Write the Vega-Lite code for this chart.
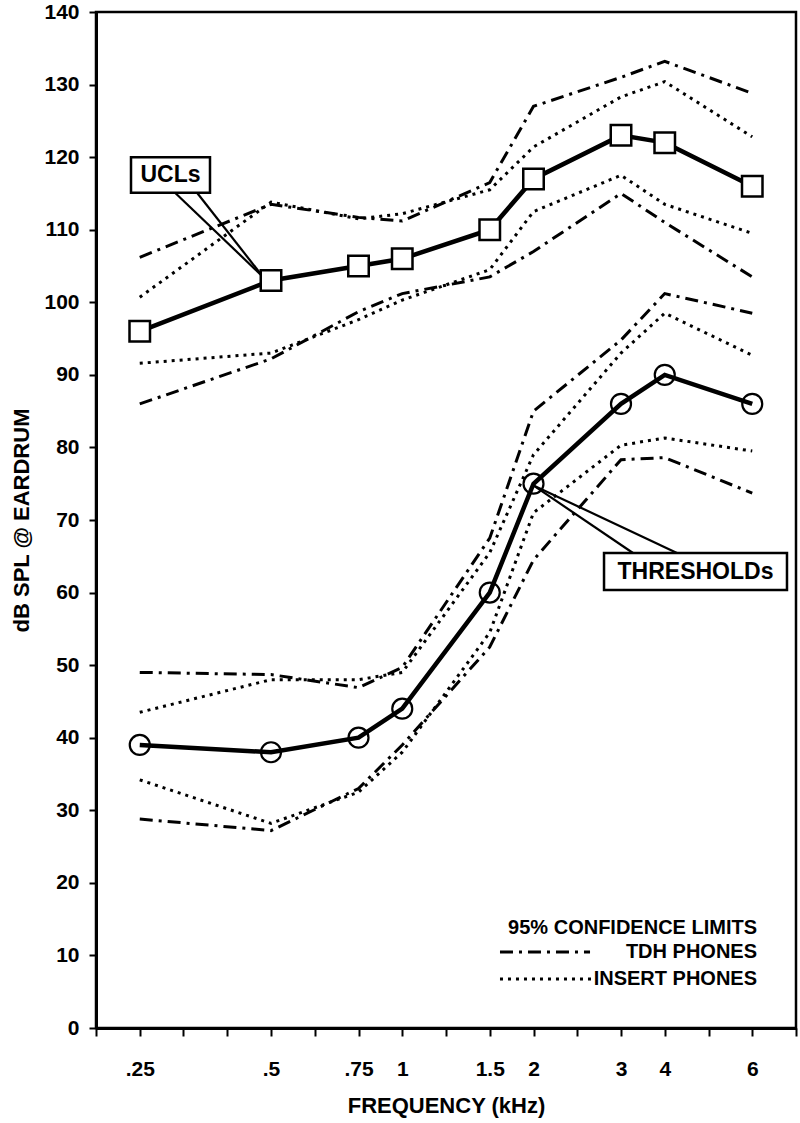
{
  "$schema": "https://vega.github.io/schema/vega-lite/v6.json",
  "width": 700,
  "height": 1016,
  "autosize": "none",
  "padding": {"left": 96, "top": 12, "right": 4, "bottom": 95},
  "background": "white",
  "config": {
    "view": {"stroke": "black", "strokeWidth": 2.5},
    "font": "Liberation Sans",
    "axis": {
      "domainColor": "black", "domainWidth": 3, "tickColor": "black", "tickWidth": 2,
      "labelColor": "black", "titleColor": "black", "grid": false,
      "labelFont": "Liberation Sans", "titleFont": "Liberation Sans",
      "labelFontWeight": "bold", "titleFontWeight": "bold"
    }
  },
  "datasets": {
    "conf": [
      {"f": 0.25, "v": 106.2, "m": "UCL", "p": "TDH", "b": "upper"},
      {"f": 0.5, "v": 113.5, "m": "UCL", "p": "TDH", "b": "upper"},
      {"f": 0.75, "v": 111.7, "m": "UCL", "p": "TDH", "b": "upper"},
      {"f": 1, "v": 111.2, "m": "UCL", "p": "TDH", "b": "upper"},
      {"f": 1.5, "v": 116.5, "m": "UCL", "p": "TDH", "b": "upper"},
      {"f": 2, "v": 127, "m": "UCL", "p": "TDH", "b": "upper"},
      {"f": 3, "v": 131, "m": "UCL", "p": "TDH", "b": "upper"},
      {"f": 4, "v": 133.2, "m": "UCL", "p": "TDH", "b": "upper"},
      {"f": 6, "v": 128.8, "m": "UCL", "p": "TDH", "b": "upper"},
      {"f": 0.25, "v": 100.7, "m": "UCL", "p": "INSERT", "b": "upper"},
      {"f": 0.5, "v": 113.8, "m": "UCL", "p": "INSERT", "b": "upper"},
      {"f": 0.75, "v": 111.5, "m": "UCL", "p": "INSERT", "b": "upper"},
      {"f": 1, "v": 112.2, "m": "UCL", "p": "INSERT", "b": "upper"},
      {"f": 1.5, "v": 115.5, "m": "UCL", "p": "INSERT", "b": "upper"},
      {"f": 2, "v": 121.4, "m": "UCL", "p": "INSERT", "b": "upper"},
      {"f": 3, "v": 128.3, "m": "UCL", "p": "INSERT", "b": "upper"},
      {"f": 4, "v": 130.4, "m": "UCL", "p": "INSERT", "b": "upper"},
      {"f": 6, "v": 122.8, "m": "UCL", "p": "INSERT", "b": "upper"},
      {"f": 0.25, "v": 91.6, "m": "UCL", "p": "INSERT", "b": "lower"},
      {"f": 0.5, "v": 93, "m": "UCL", "p": "INSERT", "b": "lower"},
      {"f": 0.75, "v": 97.6, "m": "UCL", "p": "INSERT", "b": "lower"},
      {"f": 1, "v": 100.3, "m": "UCL", "p": "INSERT", "b": "lower"},
      {"f": 1.5, "v": 104.5, "m": "UCL", "p": "INSERT", "b": "lower"},
      {"f": 2, "v": 112.5, "m": "UCL", "p": "INSERT", "b": "lower"},
      {"f": 3, "v": 117.5, "m": "UCL", "p": "INSERT", "b": "lower"},
      {"f": 4, "v": 113.5, "m": "UCL", "p": "INSERT", "b": "lower"},
      {"f": 6, "v": 109.5, "m": "UCL", "p": "INSERT", "b": "lower"},
      {"f": 0.25, "v": 86, "m": "UCL", "p": "TDH", "b": "lower"},
      {"f": 0.5, "v": 92.2, "m": "UCL", "p": "TDH", "b": "lower"},
      {"f": 0.75, "v": 98.7, "m": "UCL", "p": "TDH", "b": "lower"},
      {"f": 1, "v": 101.2, "m": "UCL", "p": "TDH", "b": "lower"},
      {"f": 1.5, "v": 103.5, "m": "UCL", "p": "TDH", "b": "lower"},
      {"f": 2, "v": 107, "m": "UCL", "p": "TDH", "b": "lower"},
      {"f": 3, "v": 115, "m": "UCL", "p": "TDH", "b": "lower"},
      {"f": 4, "v": 111, "m": "UCL", "p": "TDH", "b": "lower"},
      {"f": 6, "v": 103.5, "m": "UCL", "p": "TDH", "b": "lower"},
      {"f": 0.25, "v": 49, "m": "THR", "p": "TDH", "b": "upper"},
      {"f": 0.5, "v": 48.7, "m": "THR", "p": "TDH", "b": "upper"},
      {"f": 0.75, "v": 46.9, "m": "THR", "p": "TDH", "b": "upper"},
      {"f": 1, "v": 49.7, "m": "THR", "p": "TDH", "b": "upper"},
      {"f": 1.5, "v": 67.5, "m": "THR", "p": "TDH", "b": "upper"},
      {"f": 2, "v": 85, "m": "THR", "p": "TDH", "b": "upper"},
      {"f": 3, "v": 94.8, "m": "THR", "p": "TDH", "b": "upper"},
      {"f": 4, "v": 101.2, "m": "THR", "p": "TDH", "b": "upper"},
      {"f": 6, "v": 98.5, "m": "THR", "p": "TDH", "b": "upper"},
      {"f": 0.25, "v": 43.5, "m": "THR", "p": "INSERT", "b": "upper"},
      {"f": 0.5, "v": 48, "m": "THR", "p": "INSERT", "b": "upper"},
      {"f": 0.75, "v": 48, "m": "THR", "p": "INSERT", "b": "upper"},
      {"f": 1, "v": 49, "m": "THR", "p": "INSERT", "b": "upper"},
      {"f": 1.5, "v": 65.5, "m": "THR", "p": "INSERT", "b": "upper"},
      {"f": 2, "v": 79, "m": "THR", "p": "INSERT", "b": "upper"},
      {"f": 3, "v": 93, "m": "THR", "p": "INSERT", "b": "upper"},
      {"f": 4, "v": 98.5, "m": "THR", "p": "INSERT", "b": "upper"},
      {"f": 6, "v": 92.7, "m": "THR", "p": "INSERT", "b": "upper"},
      {"f": 0.25, "v": 34.2, "m": "THR", "p": "INSERT", "b": "lower"},
      {"f": 0.5, "v": 28.2, "m": "THR", "p": "INSERT", "b": "lower"},
      {"f": 0.75, "v": 32.5, "m": "THR", "p": "INSERT", "b": "lower"},
      {"f": 1, "v": 38, "m": "THR", "p": "INSERT", "b": "lower"},
      {"f": 1.5, "v": 54.5, "m": "THR", "p": "INSERT", "b": "lower"},
      {"f": 2, "v": 71, "m": "THR", "p": "INSERT", "b": "lower"},
      {"f": 3, "v": 80.3, "m": "THR", "p": "INSERT", "b": "lower"},
      {"f": 4, "v": 81.3, "m": "THR", "p": "INSERT", "b": "lower"},
      {"f": 6, "v": 79.5, "m": "THR", "p": "INSERT", "b": "lower"},
      {"f": 0.25, "v": 28.8, "m": "THR", "p": "TDH", "b": "lower"},
      {"f": 0.5, "v": 27.2, "m": "THR", "p": "TDH", "b": "lower"},
      {"f": 0.75, "v": 33, "m": "THR", "p": "TDH", "b": "lower"},
      {"f": 1, "v": 39, "m": "THR", "p": "TDH", "b": "lower"},
      {"f": 1.5, "v": 52.5, "m": "THR", "p": "TDH", "b": "lower"},
      {"f": 2, "v": 64.5, "m": "THR", "p": "TDH", "b": "lower"},
      {"f": 3, "v": 78.3, "m": "THR", "p": "TDH", "b": "lower"},
      {"f": 4, "v": 78.6, "m": "THR", "p": "TDH", "b": "lower"},
      {"f": 6, "v": 73.7, "m": "THR", "p": "TDH", "b": "lower"},
      {"f": 1.617, "v": 10.47, "m": "LEG", "p": "TDH", "b": "leg"},
      {"f": 2.646, "v": 10.47, "m": "LEG", "p": "TDH", "b": "leg"},
      {"f": 1.617, "v": 6.75, "m": "LEG", "p": "INSERT", "b": "leg"},
      {"f": 2.669, "v": 6.75, "m": "LEG", "p": "INSERT", "b": "leg"}
    ],
    "mean": [
      {"f": 0.25, "v": 96, "m": "UCL"},
      {"f": 0.5, "v": 103, "m": "UCL"},
      {"f": 0.75, "v": 105, "m": "UCL"},
      {"f": 1, "v": 106, "m": "UCL"},
      {"f": 1.5, "v": 110, "m": "UCL"},
      {"f": 2, "v": 117, "m": "UCL"},
      {"f": 3, "v": 123, "m": "UCL"},
      {"f": 4, "v": 122, "m": "UCL"},
      {"f": 6, "v": 116, "m": "UCL"},
      {"f": 0.25, "v": 39, "m": "THR"},
      {"f": 0.5, "v": 38, "m": "THR"},
      {"f": 0.75, "v": 40, "m": "THR"},
      {"f": 1, "v": 44, "m": "THR"},
      {"f": 1.5, "v": 60, "m": "THR"},
      {"f": 2, "v": 75, "m": "THR"},
      {"f": 3, "v": 86, "m": "THR"},
      {"f": 4, "v": 90, "m": "THR"},
      {"f": 6, "v": 86, "m": "THR"}
    ],
    "wedges": [
      {"f": 0.3172, "v": 115.1, "f2": 0.4848, "v2": 103.5},
      {"f": 0.3591, "v": 115.1, "f2": 0.4848, "v2": 103.5},
      {"f": 3.274, "v": 65.45, "f2": 1.994, "v2": 74.8},
      {"f": 4.28, "v": 65.45, "f2": 1.994, "v2": 74.8}
    ],
    "boxes": [
      {"f": 0.24, "f2": 0.3838, "v": 120.0, "v2": 115.1, "label": "UCLs", "fc": 0.3086, "vc": 117.5},
      {"f": 2.806, "f2": 6.794, "v": 65.45, "v2": 60.36, "label": "THRESHOLDs", "fc": 4.703, "vc": 62.9}
    ],
    "legend": [
      {"f": 6.109, "v": 13.78, "label": "95% CONFIDENCE LIMITS"},
      {"f": 6.109, "v": 10.47, "label": "TDH PHONES"},
      {"f": 6.109, "v": 6.75, "label": "INSERT PHONES"}
    ]
  },
  "encoding": {
    "x": {
      "field": "f", "type": "quantitative",
      "scale": {
        "domain": [0.2, 0.25, 0.5, 0.75, 1, 1.5, 2, 3, 4, 6, 7],
        "range": [0, 43.75, 175, 262.5, 306.25, 393.75, 437.5, 525, 568.75, 656.25, 700],
        "nice": false, "zero": false, "clamp": false
      },
      "axis": {
        "title": "FREQUENCY (kHz)",
        "values": [0.2, 0.25, 0.333333, 0.416667, 0.5, 0.625, 0.75, 1, 1.25, 1.5, 2, 2.5, 3, 4, 5, 6, 7],
        "labelExpr": "datum.value == 0.25 ? '.25' : datum.value == 0.5 ? '.5' : datum.value == 0.75 ? '.75' : datum.value == 1 ? '1' : datum.value == 1.5 ? '1.5' : datum.value == 2 ? '2' : datum.value == 3 ? '3' : datum.value == 4 ? '4' : datum.value == 6 ? '6' : ''",
        "labelFontSize": 21, "labelPadding": 22, "tickSize": 8,
        "titleFontSize": 22, "titlePadding": 16, "labelFlush": false, "labelOverlap": false
      }
    },
    "y": {
      "field": "v", "type": "quantitative",
      "scale": {"domain": [0, 140], "nice": false, "zero": true},
      "axis": {
        "title": "dB SPL @ EARDRUM",
        "values": [0, 10, 20, 30, 40, 50, 60, 70, 80, 90, 100, 110, 120, 130, 140],
        "labelFontSize": 21, "labelPadding": 10, "tickSize": 7,
        "titleFontSize": 22, "titlePadding": 10
      }
    }
  },
  "layer": [
    {
      "data": {"name": "conf"},
      "mark": {"type": "line", "color": "black", "strokeWidth": 3},
      "encoding": {
        "detail": [{"field": "m"}, {"field": "b"}],
        "strokeDash": {
          "field": "p", "type": "nominal",
          "scale": {"domain": ["TDH", "INSERT"], "range": [[13, 6, 3, 6], [3, 5]]},
          "legend": null
        }
      }
    },
    {
      "data": {"name": "wedges"},
      "mark": {"type": "rule", "color": "black", "strokeWidth": 2.2},
      "encoding": {
        "x2": {"field": "f2"},
        "y2": {"field": "v2"}
      }
    },
    {
      "data": {"name": "mean"},
      "mark": {"type": "line", "color": "black", "strokeWidth": 4.5},
      "encoding": {"detail": {"field": "m"}}
    },
    {
      "data": {"name": "mean"},
      "transform": [{"filter": "datum.m == 'UCL'"}],
      "mark": {"type": "point", "shape": "square", "size": 420, "filled": true, "fill": "white", "stroke": "black", "strokeWidth": 2.5, "opacity": 1}
    },
    {
      "data": {"name": "mean"},
      "transform": [{"filter": "datum.m == 'THR'"}],
      "mark": {"type": "point", "shape": "circle", "size": 400, "filled": false, "stroke": "black", "strokeWidth": 2.2, "opacity": 1}
    },
    {
      "data": {"name": "boxes"},
      "mark": {"type": "rect", "fill": "white", "stroke": "black", "strokeWidth": 2.5},
      "encoding": {
        "x2": {"field": "f2"},
        "y2": {"field": "v2"}
      }
    },
    {
      "data": {"name": "boxes"},
      "mark": {"type": "text", "font": "Liberation Sans", "fontWeight": "bold", "fontSize": 23, "align": "center", "baseline": "middle", "color": "black"},
      "encoding": {
        "x": {"field": "fc", "type": "quantitative"},
        "y": {"field": "vc", "type": "quantitative"},
        "text": {"field": "label"}
      }
    },
    {
      "data": {"name": "legend"},
      "mark": {"type": "text", "font": "Liberation Sans", "fontWeight": "bold", "fontSize": 20, "align": "right", "baseline": "middle", "color": "black"},
      "encoding": {"text": {"field": "label"}}
    }
  ]
}
